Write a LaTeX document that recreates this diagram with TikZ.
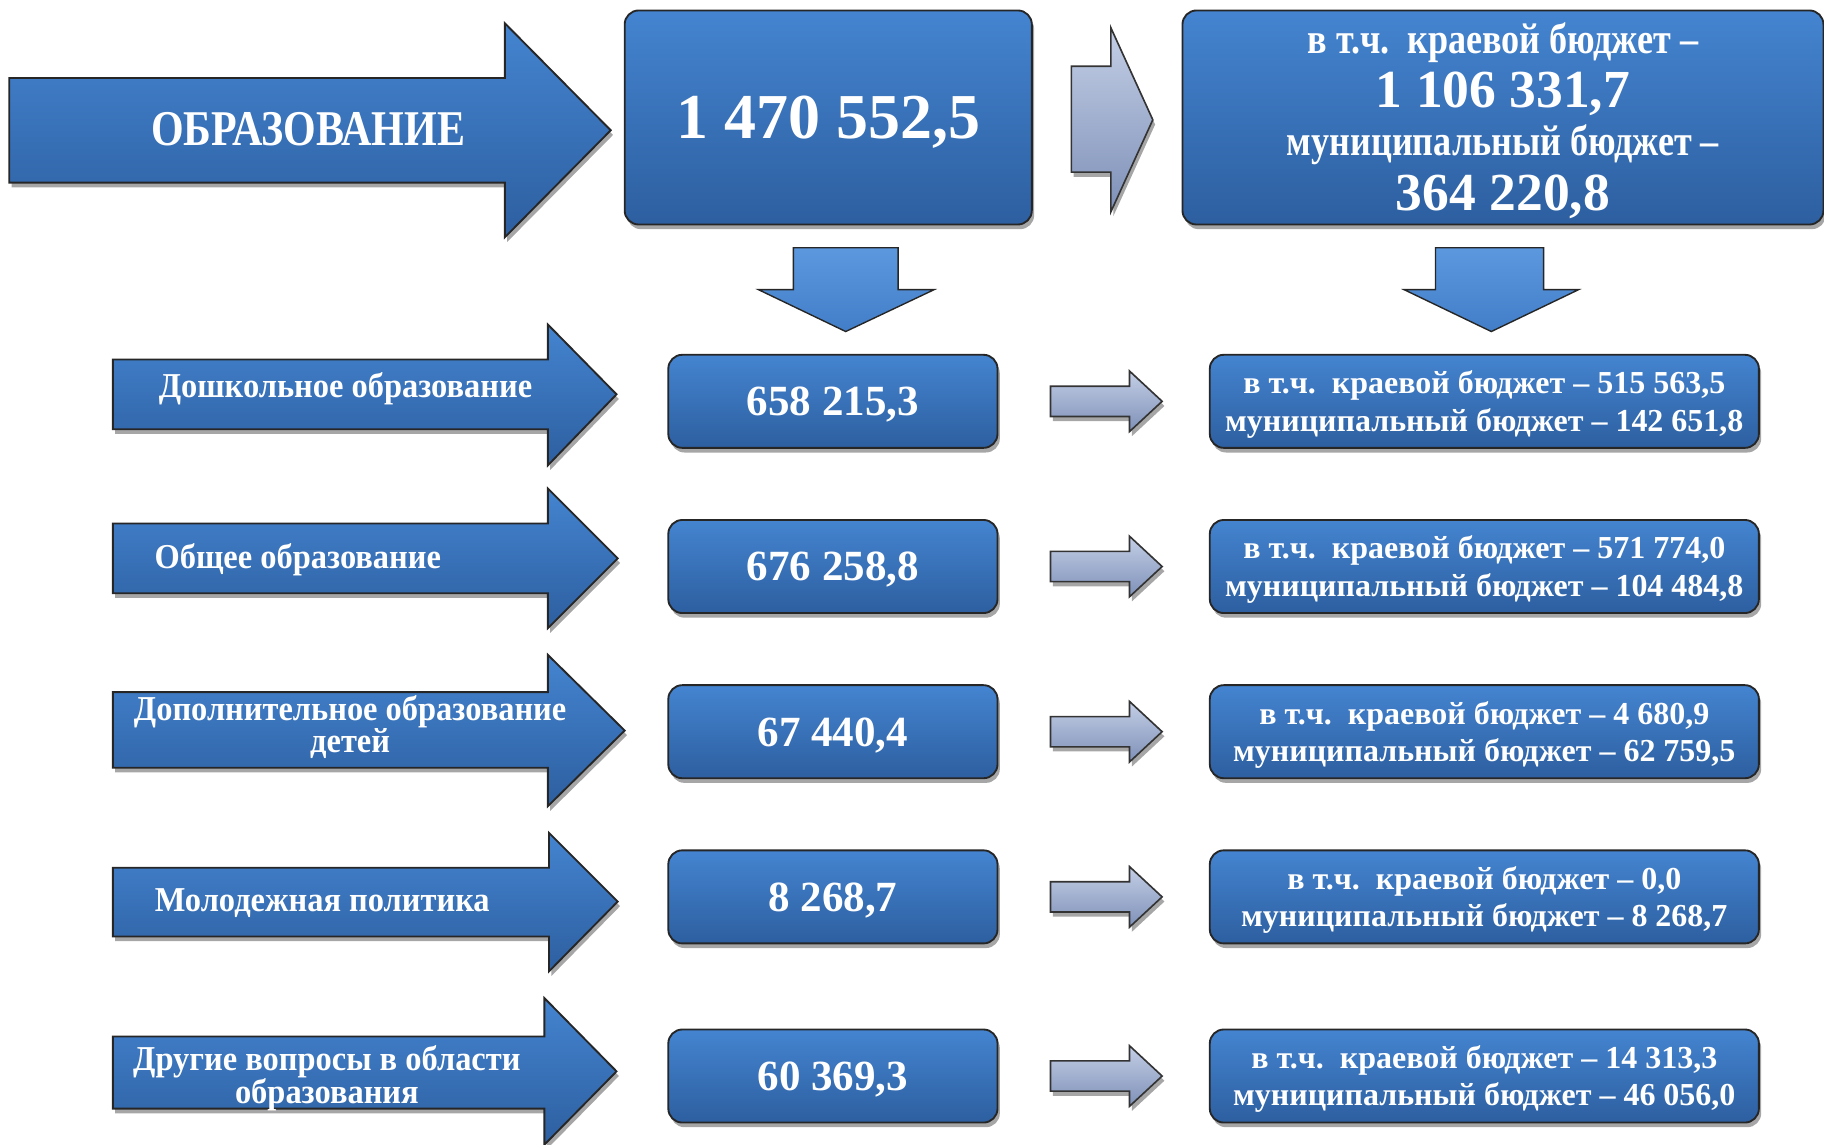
\documentclass[tikz,border=0pt]{standalone}
\usepackage{fontspec}
\setmainfont{Liberation Serif}
\newfontfamily\narrowfont[FakeStretch=0.84]{Liberation Serif}
\newfontfamily\semifont[FakeStretch=0.93]{Liberation Serif}
\usetikzlibrary{shadows}

\definecolor{boxtop}{RGB}{68,132,208}
\definecolor{boxbot}{RGB}{45,95,160}
\definecolor{greytop}{RGB}{196,207,230}
\definecolor{greybot}{RGB}{126,144,184}
\definecolor{downtop}{RGB}{92,152,222}
\definecolor{downbot}{RGB}{66,126,200}

\tikzset{
  softshadow/.style={drop shadow={shadow xshift=2pt,shadow yshift=-4pt,opacity=0.35,fill=black}},
  bluebox/.style={draw=black!85,line width=1.6pt,rounded corners=12pt,
    top color=boxtop,bottom color=boxbot,softshadow,text=white},
  bluearrow/.style={draw=black!85,line width=1.6pt,top color=boxtop,bottom color=boxbot,softshadow},
  greyarrow/.style={draw=black!80,line width=1.4pt,top color=greytop,bottom color=greybot,softshadow},
  downarrow/.style={draw=black!85,line width=1.2pt,top color=downtop,bottom color=downbot},
  wtext/.style={text=white,align=center},
  bigfont/.style={font=\narrowfont\bfseries\fontsize{#1}{#1}\selectfont},
  midfont/.style={font=\semifont\bfseries\fontsize{#1}{#1}\selectfont},
  numfont/.style={font=\bfseries\fontsize{#1}{#1}\selectfont,text depth=0pt},
  smallfont/.style={font=\bfseries\fontsize{27.5}{32}\selectfont,text height=57pt}
}

\begin{document}
\begin{tikzpicture}[x=1pt,y=-1pt]
\useasboundingbox (0,0) rectangle (1568,984);

% top row
\draw[bluearrow] (8,67) -- (434,67) -- (434,20) -- (525,112) -- (434,204) -- (434,157) -- (8,157) -- cycle;
\node[wtext,bigfont=43] (educ) at (265,111) {ОБРАЗОВАНИЕ};

\node[bluebox,minimum width=350pt,minimum height=184pt,numfont=55] (total) at (712,101) {1 470 552,5};

\draw[greyarrow] (921,57) -- (955,57) -- (955,24) -- (991,103) -- (955,182) -- (955,148) -- (921,148) -- cycle;

\node[bluebox,minimum width=551pt,minimum height=184pt] (split) at (1292,101) {};
\node[wtext,bigfont=37] (splitA) at (1292,37) {в т.ч.\ \ краевой бюджет –};
\node[wtext,numfont=46] (splitB) at (1292,77) {1 106 331,7};
\node[wtext,bigfont=37] (splitC) at (1292,124) {муниципальный бюджет –};
\node[wtext,numfont=46] (splitD) at (1292,166) {364 220,8};

\draw[downarrow] (682,213) -- (772,213) -- (772,249) -- (803,249) -- (727,285) -- (652,249) -- (682,249) -- cycle;
\draw[downarrow] (1234,213) -- (1327,213) -- (1327,249) -- (1357,249) -- (1282,285) -- (1207,249) -- (1234,249) -- cycle;

% row 1
\draw[bluearrow] (97,309) -- (471,309) -- (471,279) -- (530,339) -- (471,400) -- (471,369) -- (97,369) -- cycle;
\node[wtext,midfont=30] (pre) at (297,334) {Дошкольное образование};
\node[bluebox,minimum width=283pt,minimum height=80pt,numfont=37] (preSum) at (716,345) {658 215,3};
\draw[greyarrow] (903,332) -- (971,332) -- (971,319) -- (999,345) -- (971,371) -- (971,358) -- (903,358) -- cycle;
\node[bluebox,minimum width=472pt,minimum height=80pt,smallfont,align=center] (preSplit) at (1276,345)
  {в т.ч.\ \ краевой бюджет – 515 563,5\\муниципальный бюджет – 142 651,8};

% row 2
\draw[bluearrow] (97,450) -- (471,450) -- (471,420) -- (531,480) -- (471,540) -- (471,510) -- (97,510) -- cycle;
\node[wtext,midfont=30] (gen) at (256,481) {Общее образование};
\node[bluebox,minimum width=283pt,minimum height=80pt,numfont=37] (genSum) at (716,487) {676 258,8};
\draw[greyarrow] (903,474) -- (971,474) -- (971,461) -- (999,487) -- (971,513) -- (971,500) -- (903,500) -- cycle;
\node[bluebox,minimum width=472pt,minimum height=80pt,smallfont,align=center] (genSplit) at (1276,487)
  {в т.ч.\ \ краевой бюджет – 571 774,0\\муниципальный бюджет – 104 484,8};

% row 3
\draw[bluearrow] (97,595) -- (471,595) -- (471,563) -- (537,628) -- (471,693) -- (471,660) -- (97,660) -- cycle;
\node[wtext,midfont=30] (add) at (301,625)
  {Дополнительное образование\\[-2pt]детей};
\node[bluebox,minimum width=283pt,minimum height=80pt,numfont=37] (addSum) at (716,629) {67 440,4};
\draw[greyarrow] (903,616) -- (971,616) -- (971,603) -- (999,629) -- (971,655) -- (971,642) -- (903,642) -- cycle;
\node[bluebox,minimum width=472pt,minimum height=80pt,smallfont,align=center] (addSplit) at (1276,629)
  {в т.ч.\ \ краевой бюджет – 4 680,9\\муниципальный бюджет – 62 759,5};

% row 4
\draw[bluearrow] (97,746) -- (472,746) -- (472,716) -- (531,775) -- (472,835) -- (472,805) -- (97,805) -- cycle;
\node[wtext,midfont=30] (youth) at (277,776) {Молодежная политика};
\node[bluebox,minimum width=283pt,minimum height=80pt,numfont=37] (youthSum) at (716,771) {8 268,7};
\draw[greyarrow] (903,758) -- (971,758) -- (971,745) -- (999,771) -- (971,797) -- (971,784) -- (903,784) -- cycle;
\node[bluebox,minimum width=472pt,minimum height=80pt,smallfont,align=center] (youthSplit) at (1276,771)
  {в т.ч.\ \ краевой бюджет – 0,0\\муниципальный бюджет – 8 268,7};

% row 5
\draw[bluearrow] (97,891) -- (468,891) -- (468,858) -- (530,921) -- (468,984) -- (468,953) -- (97,953) -- cycle;
\node[wtext,midfont=30] (other) at (281,927)
  {Другие вопросы в области\\[-2pt]образования};
\node[bluebox,minimum width=283pt,minimum height=80pt,numfont=37] (otherSum) at (716,925) {60 369,3};
\draw[greyarrow] (903,912) -- (971,912) -- (971,899) -- (999,925) -- (971,951) -- (971,938) -- (903,938) -- cycle;
\node[bluebox,minimum width=472pt,minimum height=80pt,smallfont,align=center] (otherSplit) at (1276,925)
  {в т.ч.\ \ краевой бюджет – 14 313,3\\муниципальный бюджет – 46 056,0};

\end{tikzpicture}
\end{document}
